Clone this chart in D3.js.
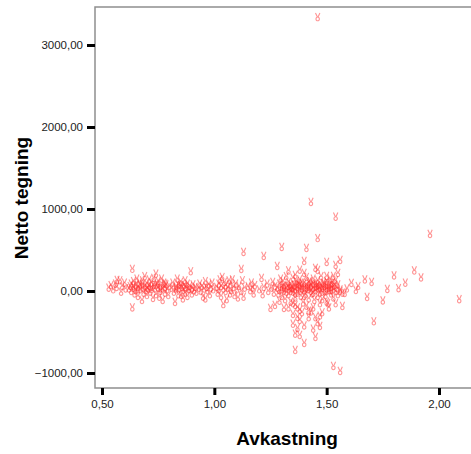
<!DOCTYPE html>
<html>
<head>
<meta charset="utf-8">
<script src="https://cdn.jsdelivr.net/npm/d3@7"></script>
<style>
  body { margin: 0; background: #fff; }
  svg { display: block; font-family: "Liberation Sans", Arial, sans-serif; }
</style>
</head>
<body>
<div class="canvas"></div>
<script>
// tick labels
var xTicks = [0.5, 1.0, 1.5, 2.0],
    yTicks = [-1000, 0, 1000, 2000, 3000];

// observations [avkastning, netto tegning], grouped by x region
var lavGruppe = [
  [0.53,40],[0.54,70],[0.55,20],[0.56,90],[0.565,50],[0.567,134],[0.58,130],[0.585,-10],
  [0.59,60],[0.60,100],[0.605,30]
];
var gruppeB = [
  [0.62,30],[0.625,60],[0.63,0],[0.63,90],[0.635,270],[0.635,-200],[0.64,40],[0.64,120],
  [0.645,-30],[0.65,70],[0.65,10],[0.655,150],[0.66,50],[0.66,-60],[0.665,100],[0.67,20],
  [0.67,80],[0.678,-110],[0.68,40],[0.68,130],[0.685,-20],[0.69,60],[0.69,180],[0.695,10],
  [0.70,90],[0.70,-50],[0.705,30],[0.71,140],[0.71,60],[0.715,-10],[0.72,100],[0.72,20],
  [0.727,-85],[0.73,70],[0.73,160],[0.735,30],[0.74,210],[0.74,-40],[0.745,90],[0.75,40],
  [0.75,120],[0.755,-70],[0.76,60],[0.76,0],[0.765,150],[0.77,30],[0.77,-110],[0.775,100],
  [0.78,50],[0.78,-20],[0.785,80],[0.79,20],[0.795,-50],[0.80,60],
  [0.64,60],[0.66,20],[0.68,80],[0.70,40],[0.72,50],[0.74,70],[0.76,30],[0.78,90]
];
var gruppeC = [
  [0.81,40],[0.815,100],[0.82,-10],[0.825,-134],[0.83,60],[0.83,20],[0.835,150],[0.84,-40],
  [0.84,80],[0.845,30],[0.852,-49],[0.85,110],[0.855,50],[0.86,-90],[0.86,10],[0.865,70],
  [0.87,130],[0.87,-20],[0.875,40],[0.88,90],[0.88,-60],[0.885,20],[0.89,60],[0.895,240],
  [0.90,30],[0.90,-30],[0.905,80],[0.91,10],[0.915,50],[0.92,-10],
  [0.83,40],[0.85,70],[0.87,50],[0.89,20]
];
var gruppeD = [
  [0.93,40],[0.935,90],[0.94,0],[0.945,60],[0.95,-70],[0.955,30],[0.96,120],[0.96,-90],
  [0.965,50],[0.97,10],[0.975,80],[0.98,-40],[0.985,40],[0.99,100],[0.995,20],
  [1.01,50],[1.015,-20],[1.02,90],[1.02,20],[1.025,140],[1.03,-60],[1.03,60],[1.035,170],
  [1.04,-160],[1.04,30],[1.045,110],[1.05,0],[1.05,70],[1.055,-100],[1.06,40],[1.065,130],
  [1.07,-30],[1.07,80],[1.075,10],[1.08,140],[1.085,50],[1.09,-50],[1.095,90],[1.10,20],
  [1.105,-80],[1.11,60],[1.12,268],[1.12,0],[1.125,130],[1.13,-70],[1.13,476],[1.135,40]
];
var gruppeE = [
  [1.15,60],[1.16,10],[1.165,100],[1.17,40],[1.175,-30],[1.18,70],[1.20,20],[1.21,160],
  [1.215,-40],[1.22,427],[1.22,50],[1.235,90],[1.24,0],[1.25,-207],[1.255,40],[1.26,110],
  [1.265,-20],[1.27,60],[1.27,-170]
];
var hovedGruppe = [
  [1.28,40],[1.285,-30],[1.29,90],[1.29,10],[1.295,150],[1.30,-60],[1.30,50],[1.305,120],
  [1.31,0],[1.31,70],[1.315,-100],[1.32,30],[1.32,180],[1.325,60],[1.33,-40],[1.33,110],
  [1.335,20],[1.34,80],[1.34,-130],[1.345,40],[1.35,160],[1.35,-10],[1.355,70],[1.36,20],
  [1.36,-80],[1.365,120],[1.37,50],[1.37,-20],[1.375,90],[1.38,0],[1.38,140],[1.385,-60],
  [1.39,60],[1.39,30],[1.395,-140],[1.40,100],[1.40,10],[1.405,-40],[1.41,70],[1.41,170],
  [1.415,20],[1.42,-90],[1.42,50],[1.425,120],[1.43,0],[1.43,80],[1.435,-30],[1.44,150],
  [1.44,40],[1.445,-110],[1.45,90],[1.45,10],[1.455,60],[1.46,-60],[1.46,130],[1.465,30],
  [1.47,-20],[1.47,80],[1.475,180],[1.48,40],[1.48,-100],[1.485,100],[1.49,0],[1.49,60],
  [1.495,-50],[1.50,120],[1.50,30],[1.505,-150],[1.51,70],[1.51,10],[1.515,150],[1.52,-30],
  [1.52,50],[1.525,100],[1.53,20],[1.53,-80],[1.535,70],[1.54,0],[1.54,130],[1.545,40],
  [1.55,-40],[1.55,80],[1.56,20],[1.30,20],[1.32,-10],[1.34,40],[1.36,60],[1.38,70],
  [1.40,40],[1.42,20],[1.44,90],[1.46,30],[1.48,60],[1.50,70],[1.52,90],[1.37,-200],
  [1.41,-180],[1.43,-250],[1.47,-150],[1.51,-200],[1.35,-150],[1.33,-200],[1.29,-120],
  [1.42,-320],[1.40,-420],[1.38,-230],
  [1.31,40],[1.33,60],[1.35,30],[1.37,80],[1.39,100],[1.41,40],[1.43,60],[1.45,50],
  [1.47,40],[1.49,90],[1.51,40],[1.53,60],[1.36,-30],[1.40,-60],[1.44,-20],[1.48,-10],
  [1.52,10],[1.34,0],[1.38,30],[1.42,110],[1.46,70],[1.50,0]
];
var utliggere = [
  [1.46,3340],[1.43,1085],[1.54,905],[1.46,645],[1.30,537],[1.41,524],[1.28,305],[1.40,366],
  [1.45,280],[1.50,354],[1.56,378],[1.54,317],[1.36,195],[1.40,220],[1.46,256],[1.50,183],
  [1.53,183],[1.55,220],[1.33,250],[1.38,260],
  [1.36,-720],[1.37,-451],[1.38,-354],[1.38,-537],[1.40,-634],[1.45,-561],[1.47,-427],
  [1.53,-915],[1.56,-975],[1.31,-207],[1.36,-170],[1.37,-317],[1.39,-260],[1.44,-200],
  [1.45,-320],[1.48,-260],[1.50,-130],[1.54,-150],[1.57,-183],[1.35,-400],[1.36,-520],
  [1.35,-280],[1.44,-460],[1.46,-380],[1.42,-240],[1.47,-300]
];
var hoyreGruppe = [
  [1.56,0],[1.57,-20],[1.58,-24],[1.59,30],[1.61,98],[1.63,12],[1.64,60],[1.67,140],
  [1.68,-73],[1.70,110],[1.71,-370],[1.75,-115],[1.77,25],[1.80,190],[1.82,35],[1.85,100],
  [1.89,250],[1.92,165],[1.96,695],[2.09,-100]
];

var data = [].concat(lavGruppe, gruppeB, gruppeC, gruppeD, gruppeE,
                     hovedGruppe, utliggere, hoyreGruppe);

// where does it live
var width = 471,
    height = 454,
    frame = { left: 95, top: 7, right: 480, bottom: 388 };

var svg = d3.select('.canvas').append('svg')
    .attr('width', width)
    .attr('height', height);

var x = d3.scaleLinear().domain([0.5, 2.0]).range([102, 439]),
    y = d3.scaleLinear().domain([-1000, 3000]).range([373, 45]);

var fmt = function (v) { return d3.format('.2f')(v).replace('.', ','); };

// plot frame
svg.append('path')
    .attr('d', 'M' + frame.right + ',' + frame.top + 'H' + frame.left +
               'V' + frame.bottom + 'H' + frame.right)
    .attr('fill', 'none')
    .attr('stroke', '#8f8f8f')
    .attr('stroke-width', 1.5);

// points
var marker = 'M-2.2,-4.2 L-0.4,-0.4 M2.2,-4.2 L0.4,-0.2 M-1.7,1.8 a1.7,1.9 0 1,0 3.4,0 a1.7,1.9 0 1,0 -3.4,0';

svg.append('g')
    .selectAll('path')
    .data(data)
    .enter()
    .append('path')
    .attr('transform', function (d) {
        return 'translate(' + x(d[0]) + ',' + y(d[1]) + ')';
    })
    .attr('d', marker)
    .attr('fill', 'none')
    .attr('stroke', '#ff2a2a')
    .attr('stroke-opacity', 0.5)
    .attr('stroke-width', 1.1);

// axes
var yAxis = d3.axisLeft(y)
    .tickValues(yTicks)
    .tickSize(8)
    .tickPadding(4)
    .tickFormat(fmt);

var xAxis = d3.axisBottom(x)
    .tickValues(xTicks)
    .tickSize(7)
    .tickPadding(5)
    .tickFormat(fmt);

var gy = svg.append('g')
    .attr('transform', 'translate(' + frame.left + ',0)')
    .call(yAxis);

var gx = svg.append('g')
    .attr('transform', 'translate(0,' + frame.bottom + ')')
    .call(xAxis);

[gx, gy].forEach(function (g) {
    g.select('.domain').remove();
    g.selectAll('line')
        .attr('stroke', '#000')
        .attr('stroke-width', 3);
    g.selectAll('text')
        .attr('fill', '#222')
        .style('font-size', '11.5px')
        .style('font-family', '"Liberation Sans", Arial, sans-serif');
});

// axis titles
svg.append('text')
    .attr('x', 287)
    .attr('y', 445)
    .attr('text-anchor', 'middle')
    .style('font-size', '19px')
    .style('font-weight', 'bold')
    .text('Avkastning');

svg.append('text')
    .attr('transform', 'translate(28,198) rotate(-90)')
    .attr('text-anchor', 'middle')
    .style('font-size', '19px')
    .style('font-weight', 'bold')
    .text('Netto tegning');
</script>
</body>
</html>
